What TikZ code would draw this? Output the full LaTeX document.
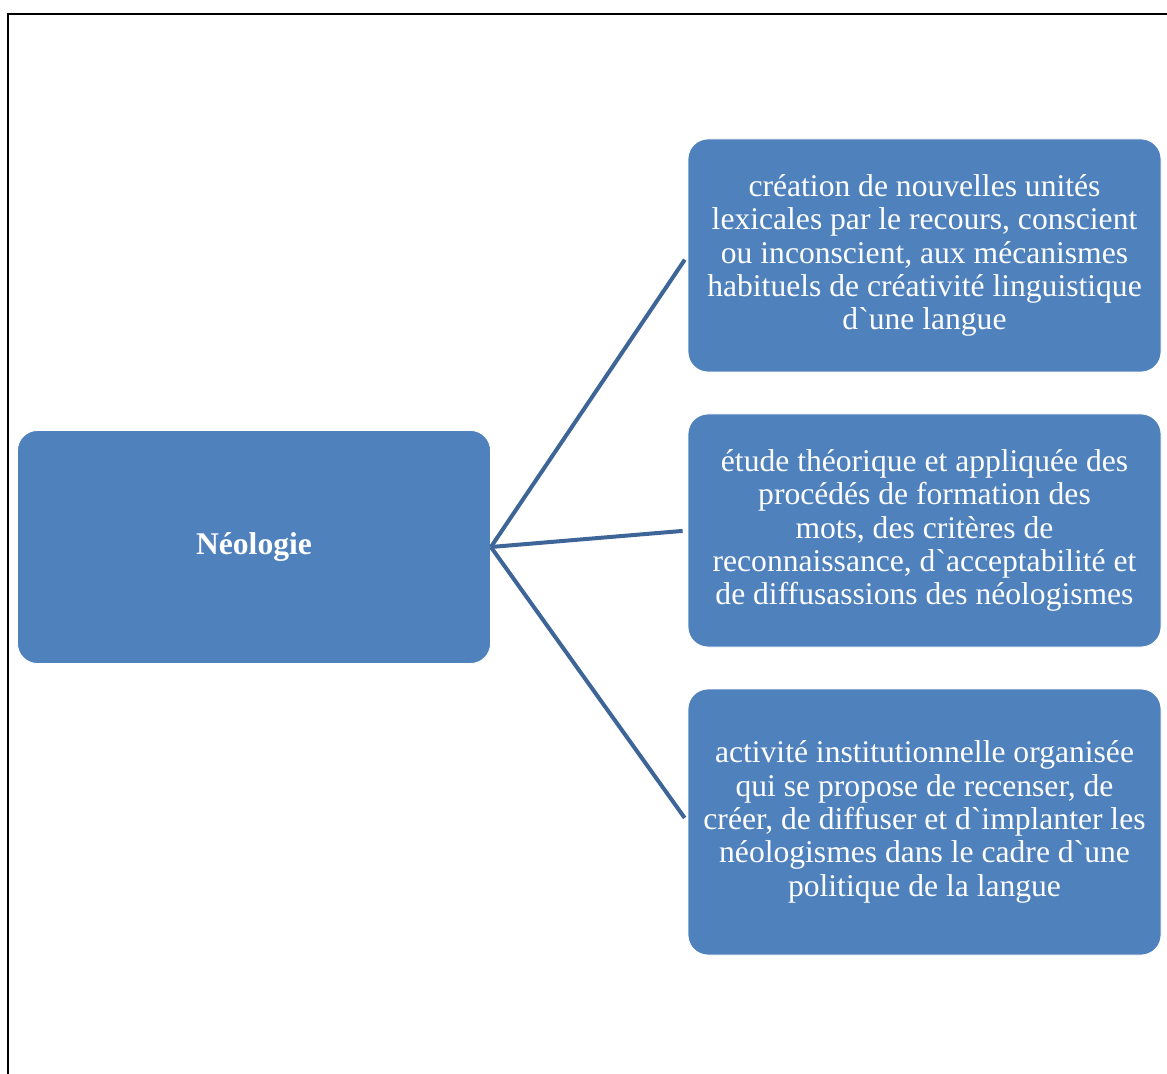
\documentclass[tikz,border=0pt]{standalone}
\usepackage{fontspec}
\setmainfont{Liberation Serif}
\usepackage{tikz}
\usetikzlibrary{positioning}

\definecolor{boxblue}{HTML}{4F81BD}
\definecolor{linkblue}{HTML}{3D6597}

\begin{document}
\begin{tikzpicture}[x=0.5pt, y=-0.5pt, align=center]
    \tikzset{
        box/.style      =   { rectangle
                            , rounded corners=10pt
                            , fill=boxblue
                            , draw=white
                            , line width=0.4pt
                            , text=white
                            , inner sep=0pt
                            , minimum width=236.5pt
                            , minimum height=116.5pt
                            , font=\fontsize{15.8}{16.65}\selectfont
        }
        , link/.style   =   { linkblue
                            , line width=2pt
                            , shorten >= 2.5pt
        }
    }
    \useasboundingbox (0,0) rectangle (1167,1074);
    \draw[line width=1pt] (8,1074) -- (8,14) -- (1167,14);

    \node(neologie)[box] at (254,547) {\textbf{Néologie}};
    \node(creation)[box] at (924.5,255.5)
        {création de nouvelles unités\\
         lexicales par le recours, conscient\\
         ou inconscient, aux mécanismes\\
         habituels de créativité linguistique\\
         d\textasciigrave une langue};
    \node(etude)[box] at (924.5,530.5)
        {étude théorique et appliquée des\\
         procédés de formation des\\
         mots, des critères de\\
         reconnaissance, d\textasciigrave acceptabilité et\\
         de diffusassions des néologismes};
    \node(activite)[box, minimum height=133pt] at (924.5,822)
        {activité institutionnelle organisée\\
         qui se propose de recenser, de\\
         créer, de diffuser et d\textasciigrave implanter les\\
         néologismes dans le cadre d\textasciigrave une\\
         politique de la langue};

    \draw[link] (neologie.east) -- (creation.west);
    \draw[link] (neologie.east) -- (etude.west);
    \draw[link] (neologie.east) -- (activite.west);
\end{tikzpicture}
\end{document}
